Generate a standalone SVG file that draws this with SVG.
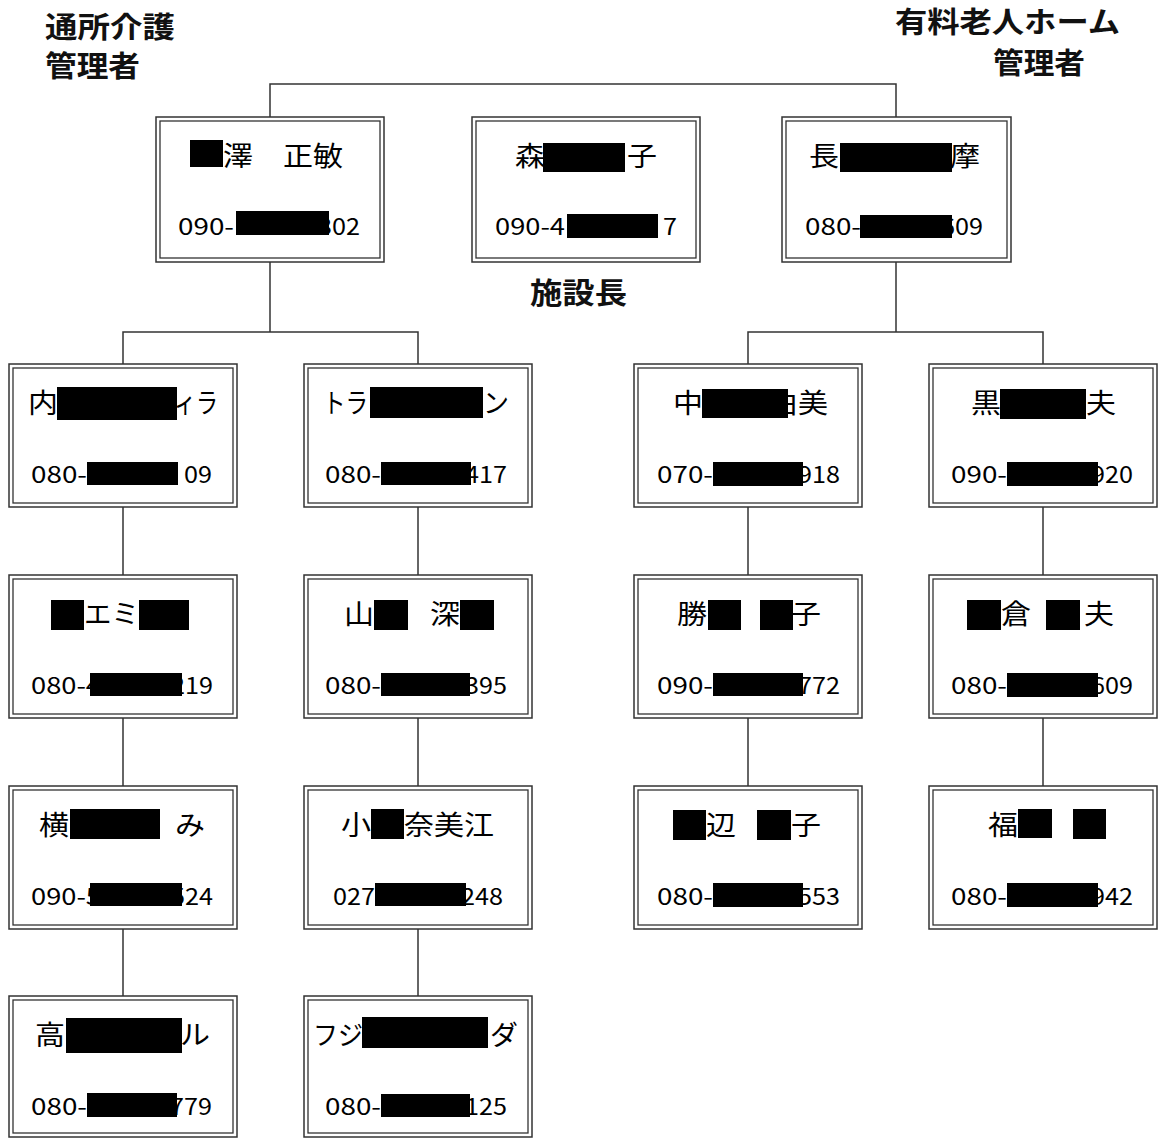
<svg xmlns="http://www.w3.org/2000/svg" width="1160" height="1139" viewBox="0 0 1160 1139">
<style>
.bo{fill:#fff;stroke:#333;stroke-width:1.5}
.bi{fill:none;stroke:#333;stroke-width:1.3}
.nm{font-family:"Noto Sans CJK JP","Noto Sans",sans-serif;font-size:27px;fill:#000}
.ph{font-family:"Noto Sans CJK JP","Noto Sans",sans-serif;font-size:23px;fill:#000}
.lb{font-family:"Noto Sans CJK JP","Noto Sans",sans-serif;font-size:29px;font-weight:bold;fill:#111}
.rd{fill:#000}
.cn{fill:none;stroke:#333;stroke-width:1.5}
</style>
<rect width="1160" height="1139" fill="#fff"/>
<g id="labels">
<text class="lb" x="45" y="38" textLength="130" lengthAdjust="spacingAndGlyphs">通所介護</text>
<text class="lb" x="45" y="77" textLength="95" lengthAdjust="spacingAndGlyphs">管理者</text>
<text class="lb" x="895" y="33" textLength="225" lengthAdjust="spacingAndGlyphs">有料老人ホーム</text>
<text class="lb" x="993" y="74" textLength="92" lengthAdjust="spacingAndGlyphs">管理者</text>
<text class="lb" x="530" y="304" textLength="97" lengthAdjust="spacingAndGlyphs">施設長</text>
</g>
<g id="connectors">
<polyline class="cn" points="270,117 270,84 896,84 896,117"/>
<line class="cn" x1="270" y1="262" x2="270" y2="332"/>
<polyline class="cn" points="123,364 123,332 418,332 418,364"/>
<line class="cn" x1="896" y1="262" x2="896" y2="332"/>
<polyline class="cn" points="748,364 748,332 1043,332 1043,364"/>
<line class="cn" x1="123" y1="507" x2="123" y2="575"/>
<line class="cn" x1="123" y1="718" x2="123" y2="786"/>
<line class="cn" x1="123" y1="929" x2="123" y2="996"/>
<line class="cn" x1="418" y1="507" x2="418" y2="575"/>
<line class="cn" x1="418" y1="718" x2="418" y2="786"/>
<line class="cn" x1="418" y1="929" x2="418" y2="996"/>
<line class="cn" x1="748" y1="507" x2="748" y2="575"/>
<line class="cn" x1="748" y1="718" x2="748" y2="786"/>
<line class="cn" x1="1043" y1="507" x2="1043" y2="575"/>
<line class="cn" x1="1043" y1="718" x2="1043" y2="786"/>
</g>

<g id="n-top1">
<rect class="bo" x="156" y="117" width="228" height="145"/><rect class="bi" x="160" y="121" width="220" height="137"/>
<text class="nm" x="223" y="166" textLength="30" lengthAdjust="spacingAndGlyphs">澤</text>
<text class="nm" x="283" y="166" textLength="60" lengthAdjust="spacingAndGlyphs">正敏</text>
<text class="ph" x="178" y="235" textLength="56" lengthAdjust="spacingAndGlyphs">090-</text>
<text class="ph" x="318" y="235" textLength="42" lengthAdjust="spacingAndGlyphs">302</text>
<rect class="rd" x="190" y="140" width="33" height="27"/><rect class="rd" x="236" y="211" width="93" height="24"/>
</g>
<g id="n-top2">
<rect class="bo" x="472" y="117" width="228" height="145"/><rect class="bi" x="476" y="121" width="220" height="137"/>
<text class="nm" x="515" y="166" textLength="30" lengthAdjust="spacingAndGlyphs">森</text>
<text class="nm" x="627" y="166" textLength="30" lengthAdjust="spacingAndGlyphs">子</text>
<text class="ph" x="495" y="235" textLength="70" lengthAdjust="spacingAndGlyphs">090-4</text>
<text class="ph" x="663" y="235" textLength="14" lengthAdjust="spacingAndGlyphs">7</text>
<rect class="rd" x="543" y="143" width="82" height="29"/><rect class="rd" x="567" y="214" width="91" height="24"/>
</g>
<g id="n-top3">
<rect class="bo" x="782" y="117" width="229" height="145"/><rect class="bi" x="786" y="121" width="221" height="137"/>
<text class="nm" x="809" y="166" textLength="30" lengthAdjust="spacingAndGlyphs">長</text>
<text class="nm" x="950" y="166" textLength="30" lengthAdjust="spacingAndGlyphs">摩</text>
<text class="ph" x="805" y="235" textLength="56" lengthAdjust="spacingAndGlyphs">080-</text>
<text class="ph" x="941" y="235" textLength="42" lengthAdjust="spacingAndGlyphs">609</text>
<rect class="rd" x="840" y="143" width="112" height="29"/><rect class="rd" x="860" y="215" width="92" height="23"/>
</g>

<g id="n-r2c1">
<rect class="bo" x="9" y="364" width="228" height="143"/><rect class="bi" x="13" y="368" width="220" height="135"/>
<text class="nm" x="28" y="413" textLength="30" lengthAdjust="spacingAndGlyphs">内</text>
<text class="nm" x="174" y="413" textLength="44" lengthAdjust="spacingAndGlyphs">ィラ</text>
<text class="ph" x="31" y="483" textLength="56" lengthAdjust="spacingAndGlyphs">080-</text>
<text class="ph" x="184" y="483" textLength="28" lengthAdjust="spacingAndGlyphs">09</text>
<rect class="rd" x="57" y="387" width="120" height="33"/><rect class="rd" x="87" y="462" width="91" height="23"/>
</g>
<g id="n-r2c2">
<rect class="bo" x="304" y="364" width="228" height="143"/><rect class="bi" x="308" y="368" width="220" height="135"/>
<text class="nm" x="323" y="413" textLength="45" lengthAdjust="spacingAndGlyphs">トラ</text>
<text class="nm" x="483" y="413" textLength="26" lengthAdjust="spacingAndGlyphs">ン</text>
<text class="ph" x="325" y="483" textLength="56" lengthAdjust="spacingAndGlyphs">080-</text>
<text class="ph" x="465" y="483" textLength="42" lengthAdjust="spacingAndGlyphs">417</text>
<rect class="rd" x="370" y="387" width="113" height="31"/><rect class="rd" x="381" y="462" width="90" height="23"/>
</g>
<g id="n-r2c3">
<rect class="bo" x="634" y="364" width="228" height="143"/><rect class="bi" x="638" y="368" width="220" height="135"/>
<text class="nm" x="673" y="413" textLength="30" lengthAdjust="spacingAndGlyphs">中</text>
<text class="nm" x="768" y="413" textLength="60" lengthAdjust="spacingAndGlyphs">由美</text>
<text class="ph" x="657" y="483" textLength="56" lengthAdjust="spacingAndGlyphs">070-</text>
<text class="ph" x="798" y="483" textLength="42" lengthAdjust="spacingAndGlyphs">918</text>
<rect class="rd" x="702" y="389" width="86" height="29"/><rect class="rd" x="713" y="462" width="90" height="24"/>
</g>
<g id="n-r2c4">
<rect class="bo" x="929" y="364" width="228" height="143"/><rect class="bi" x="933" y="368" width="220" height="135"/>
<text class="nm" x="971" y="413" textLength="30" lengthAdjust="spacingAndGlyphs">黒</text>
<text class="nm" x="1086" y="413" textLength="30" lengthAdjust="spacingAndGlyphs">夫</text>
<text class="ph" x="951" y="483" textLength="56" lengthAdjust="spacingAndGlyphs">090-</text>
<text class="ph" x="1091" y="483" textLength="42" lengthAdjust="spacingAndGlyphs">920</text>
<rect class="rd" x="1000" y="389" width="86" height="30"/><rect class="rd" x="1007" y="462" width="91" height="24"/>
</g>

<g id="n-r3c1">
<rect class="bo" x="9" y="575" width="228" height="143"/><rect class="bi" x="13" y="579" width="220" height="135"/>
<text class="nm" x="84" y="624" textLength="55" lengthAdjust="spacingAndGlyphs">エミ</text>
<text class="ph" x="31" y="694" textLength="70" lengthAdjust="spacingAndGlyphs">080-4</text>
<text class="ph" x="171" y="694" textLength="42" lengthAdjust="spacingAndGlyphs">219</text>
<rect class="rd" x="51" y="600" width="33" height="30"/><rect class="rd" x="139" y="600" width="50" height="30"/>
<rect class="rd" x="90" y="673" width="92" height="23"/>
</g>
<g id="n-r3c2">
<rect class="bo" x="304" y="575" width="228" height="143"/><rect class="bi" x="308" y="579" width="220" height="135"/>
<text class="nm" x="344" y="624" textLength="30" lengthAdjust="spacingAndGlyphs">山</text>
<text class="nm" x="430" y="624" textLength="30" lengthAdjust="spacingAndGlyphs">深</text>
<text class="ph" x="325" y="694" textLength="56" lengthAdjust="spacingAndGlyphs">080-</text>
<text class="ph" x="465" y="694" textLength="42" lengthAdjust="spacingAndGlyphs">395</text>
<rect class="rd" x="374" y="600" width="34" height="30"/><rect class="rd" x="460" y="600" width="34" height="30"/>
<rect class="rd" x="381" y="673" width="89" height="23"/>
</g>
<g id="n-r3c3">
<rect class="bo" x="634" y="575" width="228" height="143"/><rect class="bi" x="638" y="579" width="220" height="135"/>
<text class="nm" x="677" y="624" textLength="30" lengthAdjust="spacingAndGlyphs">勝</text>
<text class="nm" x="791" y="624" textLength="30" lengthAdjust="spacingAndGlyphs">子</text>
<text class="ph" x="657" y="694" textLength="56" lengthAdjust="spacingAndGlyphs">090-</text>
<text class="ph" x="798" y="694" textLength="42" lengthAdjust="spacingAndGlyphs">772</text>
<rect class="rd" x="708" y="600" width="33" height="30"/><rect class="rd" x="760" y="600" width="33" height="30"/>
<rect class="rd" x="713" y="673" width="90" height="23"/>
</g>
<g id="n-r3c4">
<rect class="bo" x="929" y="575" width="228" height="143"/><rect class="bi" x="933" y="579" width="220" height="135"/>
<text class="nm" x="1001" y="624" textLength="30" lengthAdjust="spacingAndGlyphs">倉</text>
<text class="nm" x="1084" y="624" textLength="30" lengthAdjust="spacingAndGlyphs">夫</text>
<text class="ph" x="951" y="694" textLength="56" lengthAdjust="spacingAndGlyphs">080-</text>
<text class="ph" x="1091" y="694" textLength="42" lengthAdjust="spacingAndGlyphs">609</text>
<rect class="rd" x="967" y="600" width="34" height="30"/><rect class="rd" x="1046" y="600" width="34" height="30"/>
<rect class="rd" x="1007" y="673" width="91" height="24"/>
</g>

<g id="n-r4c1">
<rect class="bo" x="9" y="786" width="228" height="143"/><rect class="bi" x="13" y="790" width="220" height="135"/>
<text class="nm" x="39" y="835" textLength="30" lengthAdjust="spacingAndGlyphs">横</text>
<text class="nm" x="175" y="835" textLength="30" lengthAdjust="spacingAndGlyphs">み</text>
<text class="ph" x="31" y="905" textLength="70" lengthAdjust="spacingAndGlyphs">090-5</text>
<text class="ph" x="171" y="905" textLength="42" lengthAdjust="spacingAndGlyphs">524</text>
<rect class="rd" x="70" y="809" width="90" height="30"/><rect class="rd" x="90" y="883" width="92" height="23"/>
</g>
<g id="n-r4c2">
<rect class="bo" x="304" y="786" width="228" height="143"/><rect class="bi" x="308" y="790" width="220" height="135"/>
<text class="nm" x="341" y="835" textLength="30" lengthAdjust="spacingAndGlyphs">小</text>
<text class="nm" x="404" y="835" textLength="90" lengthAdjust="spacingAndGlyphs">奈美江</text>
<text class="ph" x="333" y="905" textLength="42" lengthAdjust="spacingAndGlyphs">027</text>
<text class="ph" x="461" y="905" textLength="42" lengthAdjust="spacingAndGlyphs">248</text>
<rect class="rd" x="371" y="809" width="33" height="30"/><rect class="rd" x="375" y="883" width="91" height="23"/>
</g>
<g id="n-r4c3">
<rect class="bo" x="634" y="786" width="228" height="143"/><rect class="bi" x="638" y="790" width="220" height="135"/>
<text class="nm" x="706" y="835" textLength="30" lengthAdjust="spacingAndGlyphs">辺</text>
<text class="nm" x="791" y="835" textLength="30" lengthAdjust="spacingAndGlyphs">子</text>
<text class="ph" x="657" y="905" textLength="56" lengthAdjust="spacingAndGlyphs">080-</text>
<text class="ph" x="798" y="905" textLength="42" lengthAdjust="spacingAndGlyphs">553</text>
<rect class="rd" x="673" y="810" width="33" height="30"/><rect class="rd" x="757" y="810" width="34" height="30"/>
<rect class="rd" x="713" y="883" width="90" height="24"/>
</g>
<g id="n-r4c4">
<rect class="bo" x="929" y="786" width="228" height="143"/><rect class="bi" x="933" y="790" width="220" height="135"/>
<text class="nm" x="988" y="835" textLength="30" lengthAdjust="spacingAndGlyphs">福</text>
<text class="ph" x="951" y="905" textLength="56" lengthAdjust="spacingAndGlyphs">080-</text>
<text class="ph" x="1091" y="905" textLength="42" lengthAdjust="spacingAndGlyphs">942</text>
<rect class="rd" x="1018" y="809" width="34" height="29"/><rect class="rd" x="1073" y="809" width="33" height="30"/>
<rect class="rd" x="1007" y="883" width="91" height="24"/>
</g>

<g id="n-r5c1">
<rect class="bo" x="9" y="996" width="228" height="141"/><rect class="bi" x="13" y="1000" width="220" height="133"/>
<text class="nm" x="35" y="1045" textLength="30" lengthAdjust="spacingAndGlyphs">高</text>
<text class="nm" x="180" y="1045" textLength="30" lengthAdjust="spacingAndGlyphs">ル</text>
<text class="ph" x="31" y="1115" textLength="56" lengthAdjust="spacingAndGlyphs">080-</text>
<text class="ph" x="170" y="1115" textLength="42" lengthAdjust="spacingAndGlyphs">779</text>
<rect class="rd" x="66" y="1018" width="116" height="35"/><rect class="rd" x="87" y="1093" width="90" height="24"/>
</g>
<g id="n-r5c2">
<rect class="bo" x="304" y="996" width="228" height="141"/><rect class="bi" x="308" y="1000" width="220" height="133"/>
<text class="nm" x="313" y="1045" textLength="50" lengthAdjust="spacingAndGlyphs">フジ</text>
<text class="nm" x="490" y="1045" textLength="28" lengthAdjust="spacingAndGlyphs">ダ</text>
<text class="ph" x="325" y="1115" textLength="56" lengthAdjust="spacingAndGlyphs">080-</text>
<text class="ph" x="465" y="1115" textLength="42" lengthAdjust="spacingAndGlyphs">125</text>
<rect class="rd" x="362" y="1017" width="126" height="31"/><rect class="rd" x="381" y="1094" width="89" height="23"/>
</g>
</svg>
